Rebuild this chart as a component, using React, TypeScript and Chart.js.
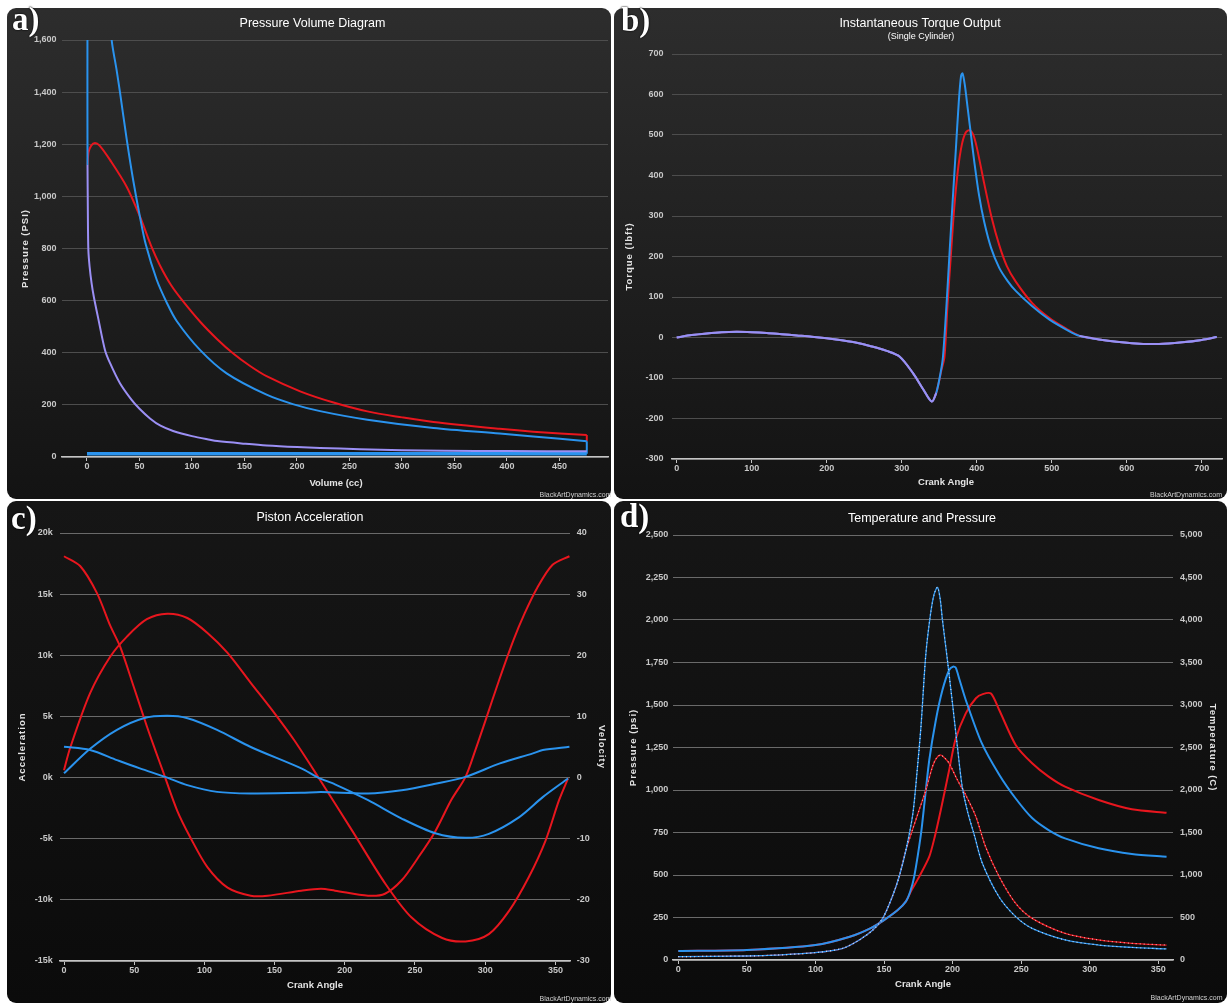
import React, { useEffect, useRef } from 'react';
import { Chart, registerables } from 'chart.js';

Chart.register(...registerables);

type Pt = [number, number];

// ---------------- a) Pressure Volume Diagram ----------------
const pvVolumeTicks = [0, 50, 100, 150, 200, 250, 300, 350, 400, 450];
const pvPressureTicks = [0, 200, 400, 600, 800, 1000, 1200, 1400, 1600];
// compression stroke (shared by both runs), volume cc -> psi
const pvCompression: Pt[] = [
  [476, 22], [400, 23], [340, 24], [300, 26], [260, 30], [222, 35], [200, 38], [171, 44],
  [150, 51], [124, 61], [117, 66], [100, 80], [82, 100], [70, 120], [60, 148], [50, 185],
  [42.5, 219], [31.4, 283], [22, 360], [17.1, 411], [10.8, 530], [6.5, 615], [4.4, 666],
  [2.5, 730], [1.3, 795], [0.8, 950], [0.5, 1120],
];
const pvBlueRun: Pt[] = [
  [0.5, 1120], [0.4, 1450], [0.6, 1800], [2, 2300], [6, 2450], [12, 2250], [18, 1900],
  [23.5, 1600], [28, 1490], [31.4, 1400], [37.8, 1220], [44.1, 1060], [50.5, 920], [56, 815],
  [66.4, 680], [76, 592], [85.4, 522], [107.6, 411], [133, 321], [171, 239], [196, 203],
  [222, 176], [267, 143], [330, 111], [393, 90], [425, 79], [476, 60],
];
const pvRedRun: Pt[] = [
  [0.5, 1120], [1.5, 1170], [4, 1195], [7.6, 1205], [12, 1195], [21.9, 1140], [37.8, 1037],
  [50.5, 922], [61.6, 805], [69.5, 735], [80, 660], [91, 600], [108, 518], [124, 452],
  [139, 398], [155, 350], [171, 310], [203, 252], [234, 210], [267, 175], [300, 152],
  [330, 134], [393, 108], [425, 97], [476, 84],
];
const pvBlowdownRed: Pt[] = [[476, 84], [476, 60]];
const pvBlowdownBlue: Pt[] = [[476, 60], [476, 12]];
const pvExhaustIntake: Pt[] = [[476, 12], [0, 12]];

// ---------------- b) Instantaneous Torque Output ----------------
const torqueAngleTicks = [0, 100, 200, 300, 400, 500, 600, 700];
const torqueTicks = [-300, -200, -100, 0, 100, 200, 300, 400, 500, 600, 700];
const torqueCommonStart: Pt[] = [
  [0, 0], [20, 6], [40, 10], [60, 13], [80, 14], [100, 13], [120, 11], [140, 8], [160, 5],
  [180, 2], [200, -2], [220, -7], [240, -13], [260, -22], [280, -33], [297, -47], [315, -88],
  [329, -129], [340, -158], [346, -137],
];
const torqueBlueMid: Pt[] = [
  [346, -137], [352, -85], [355, -47], [360, 90], [364, 217], [368, 340], [372, 460],
  [376, 580], [379, 645], [381, 652], [384, 625], [388, 565], [392, 505], [397, 430],
  [403, 352], [410, 285], [419, 222], [430, 172], [441, 140], [452, 115], [474, 77],
  [497, 44], [520, 19], [537, 4],
];
const torqueRedMid: Pt[] = [
  [346, -137], [353, -80], [357, -47], [361, 80], [366, 217], [370, 320], [375, 415],
  [380, 475], [385, 505], [390, 512], [395, 502], [400, 470], [410, 380], [420, 295],
  [430, 228], [440, 177], [452, 138], [474, 85], [497, 48], [520, 21], [537, 4],
];
const torqueCommonEnd: Pt[] = [
  [537, 4], [563, -5], [607, -14], [643, -16], [674, -12], [700, -6], [720, 1],
];

// ---------------- c) Piston Acceleration ----------------
const pistonAngleTicks = [0, 50, 100, 150, 200, 250, 300, 350];
const accelTicks = [-15000, -10000, -5000, 0, 5000, 10000, 15000, 20000];
const velocityTicks = [-30, -20, -10, 0, 10, 20, 30, 40];
const redAccel: Pt[] = [
  [0, 18100], [11.5, 17300], [23.4, 15100], [33, 12400], [40, 10700], [49.6, 7450],
  [59, 4200], [65, 2250], [71, 340], [80.6, -2700], [90, -4900], [102, -7300],
  [116.5, -9000], [133, -9660], [145, -9660], [169, -9250], [183, -9100], [193, -9250],
  [216.6, -9660], [228.6, -9500], [240.5, -8400], [252.5, -6500], [264.4, -4400],
  [276, -1800], [286, 60], [293, 2250], [300, 4600], [310, 8000], [320, 11200],
  [328, 13400], [337, 15500], [348, 17400], [360, 18100],
];
const redVelocity: Pt[] = [
  [0, 1.2], [4.3, 4.8], [18.6, 13.8], [33, 19.8], [45, 23.1], [59, 25.9], [73.5, 26.8],
  [87.8, 26.1], [102, 23.7], [116.5, 20.4], [133, 15.5], [150, 10.5], [164, 6.1],
  [181, 0.1], [205, -8.6], [229, -17.4], [247.6, -22.9], [269, -26.2], [286, -26.8],
  [302.6, -25.6], [317, -21.8], [331, -16.3], [343, -10.3], [352.6, -3.7], [359, -0.15],
];
const blueAccel: Pt[] = [
  [0, 2520], [18.6, 2250], [37.7, 1430], [54, 750], [72, 60], [87.8, -620], [109, -1170],
  [133, -1300], [169, -1250], [183, -1170], [216.6, -1300], [240.5, -1030], [264.5, -500],
  [286, 60], [310.5, 1160], [334, 1980], [341, 2250], [360, 2520],
];
const blueVelocity: Pt[] = [
  [0, 0.7], [18.6, 4.7], [37.7, 7.8], [56.7, 9.7], [73.5, 10.1], [88, 9.7], [109, 7.8],
  [133, 5.0], [169, 1.5], [181, 0], [193, -1.1], [216.6, -3.7], [240.5, -6.7],
  [264.4, -9.1], [286, -9.85], [302.6, -9.2], [324, -6.5], [341, -3.2], [359, -0.15],
];

// ---------------- d) Temperature and Pressure ----------------
const tpAngleTicks = [0, 50, 100, 150, 200, 250, 300, 350];
const psiTicks = [0, 250, 500, 750, 1000, 1250, 1500, 1750, 2000, 2250, 2500];
const tempTicks = [0, 500, 1000, 1500, 2000, 2500, 3000, 3500, 4000, 4500, 5000];
const pressureShared: Pt[] = [
  [0, 19.6], [50, 23.5], [71.5, 29], [99.5, 43], [120, 69], [132, 118], [141.8, 176],
  [149, 245], [156, 372], [161, 490], [166, 647],
];
const pressureBlue: Pt[] = [
  [171, 860], [174, 1100], [177, 1380], [180.5, 1800], [184, 2040], [186.5, 2150],
  [189, 2192], [191, 2120], [192.6, 2000], [196.2, 1765], [199.9, 1510], [203.5, 1255],
  [207, 1020], [211, 870], [216, 730], [221.7, 569], [233.8, 372], [246, 255], [258, 186],
  [282, 118], [306.5, 88], [330.7, 74], [356, 65],
];
const pressureRed: Pt[] = [
  [170.5, 760], [175.6, 882], [180.5, 1000], [185.3, 1137], [188, 1185], [191, 1206],
  [194, 1190], [197.5, 1157], [203.5, 1059], [209.6, 970], [217, 843], [224, 667],
  [234, 490], [246, 333], [258, 245], [282, 157], [306.5, 118], [330.7, 98], [356, 88],
];
const tempShared: Pt[] = [
  [0, 106], [50, 118], [100, 176], [125, 274], [140, 373], [150, 470], [160, 588], [166, 690],
];
const tempBlue: Pt[] = [
  [169, 800], [172, 980], [177, 1490], [179.5, 1850], [183, 2353], [187.8, 2824],
  [192.6, 3176], [197.5, 3412], [200.4, 3451], [202.3, 3440], [205, 3300], [209.6, 3059],
  [221, 2560], [234, 2180], [246, 1900], [258, 1670], [270, 1529], [282, 1431],
  [306.5, 1314], [330.7, 1247], [356, 1215],
];
const tempRed: Pt[] = [
  [170, 820], [176, 990], [183, 1216], [187, 1450], [191.4, 1765], [197.5, 2235],
  [202, 2588], [209.6, 2902], [217, 3079], [222, 3128], [228, 3135], [234, 2941],
  [246, 2530], [258, 2314], [270, 2157], [282, 2039], [306.5, 1882], [330.7, 1773],
  [356, 1733],
];

// ---------------- styling ----------------
const FONT = '"Liberation Sans", Arial, Helvetica, sans-serif';
const RED = '#e8161e';
const BLUE = '#2a93ee';
const LAVENDER = '#9b8ff4';
const AXIS = '#c4c4c4';
const TICK = '#c8c8c8';
const TICK_FONT = { family: FONT, size: 9, weight: 'bold' as const };

const toXY = (pts: Pt[]) => pts.map(([x, y]) => ({ x, y }));
const fmtComma = (v: number) => Number(v).toLocaleString('en-US');

function line(data: Pt[], color: string, width = 2, extra: any = {}) {
  return {
    data: toXY(data),
    borderColor: color,
    borderWidth: width,
    pointRadius: 0,
    pointHoverRadius: 0,
    fill: false,
    tension: 0.3,
    ...extra,
  };
}

function xScale(min: number, max: number, ticks: number[]) {
  return {
    type: 'linear',
    position: 'bottom',
    min,
    max,
    afterBuildTicks: (s: any) => { s.ticks = ticks.map((v) => ({ value: v })); },
    afterFit: (s: any) => { s.height = 20; },
    grid: { display: true, drawOnChartArea: false, drawTicks: true, tickLength: 4, color: AXIS, tickColor: AXIS, tickWidth: 1 },
    border: { display: true, color: AXIS, width: 1.5 },
    ticks: { color: TICK, font: TICK_FONT, padding: 0, maxRotation: 0, minRotation: 0, autoSkip: false, callback: (v: any) => String(v) },
  };
}

function yScale(pos: string, min: number, max: number, ticks: number[], width: number, pad: number, grid: string | null, fmt: (v: number) => string) {
  return {
    type: 'linear',
    position: pos,
    min,
    max,
    afterBuildTicks: (s: any) => { s.ticks = ticks.map((v) => ({ value: v })); },
    afterFit: (s: any) => { s.width = width; },
    grid: grid ? { display: true, color: grid, lineWidth: 1, drawTicks: false } : { display: false, drawTicks: false },
    border: { display: false },
    ticks: { color: TICK, font: TICK_FONT, padding: pad, autoSkip: false, callback: (v: any) => fmt(v) },
  };
}

interface TextItem {
  text: string; x: number; y: number; font: string; color: string;
  align?: CanvasTextAlign; baseline?: CanvasTextBaseline; rotate?: number; spacing?: string;
}

function textPlugin(items: TextItem[]) {
  return {
    id: 'panelTexts',
    afterDraw(chart: any) {
      const ctx = chart.ctx as CanvasRenderingContext2D;
      items.forEach((t) => {
        ctx.save();
        ctx.translate(t.x, t.y);
        if (t.rotate) ctx.rotate(t.rotate);
        ctx.font = t.font;
        ctx.fillStyle = t.color;
        ctx.textAlign = t.align ?? 'center';
        ctx.textBaseline = t.baseline ?? 'alphabetic';
        if (t.spacing) (ctx as any).letterSpacing = t.spacing;
        ctx.fillText(t.text, 0, 0);
        ctx.restore();
      });
    },
  };
}

function bgPlugin(top: string, bottom: string) {
  return {
    id: 'panelBg',
    beforeDraw(chart: any) {
      const { ctx, width, height } = chart;
      ctx.save();
      const g = ctx.createLinearGradient(0, 0, 0, height);
      g.addColorStop(0, top);
      g.addColorStop(1, bottom);
      ctx.fillStyle = g;
      ctx.beginPath();
      ctx.roundRect(0, 0, width, height, 9);
      ctx.fill();
      ctx.restore();
    },
  };
}

const TITLE_FONT = `12.5px ${FONT}`;
const AXIS_TITLE_FONT = `bold 9.5px ${FONT}`;
const CREDIT_FONT = `7px ${FONT}`;
const TITLE_C = '#ffffff';
const AT_C = '#e4e4e4';
const CREDIT_C = '#d0d0d0';

function baseOptions(padding: any, scales: any) {
  return {
    responsive: false,
    animation: false,
    devicePixelRatio: 1,
    events: [],
    layout: { padding },
    plugins: { legend: { display: false }, tooltip: { enabled: false }, title: { display: false } },
    scales,
  };
}

function buildA() {
  const GRID = '#4d4d4d';
  return {
    type: 'line',
    data: {
      datasets: [
        line(pvCompression, LAVENDER),
        line(pvBlueRun, BLUE),
        line(pvRedRun, RED),
        line(pvBlowdownBlue, BLUE, 2, { tension: 0 }),
        line(pvBlowdownRed, RED, 2, { tension: 0 }),
        line(pvExhaustIntake, BLUE, 3.5, { tension: 0 }),
      ],
    },
    options: baseOptions(
      { top: 32, right: 3, bottom: 22, left: 0 },
      {
        x: xScale(-23.8, 496.2, pvVolumeTicks),
        y: yScale('left', 0, 1600, pvPressureTicks, 55, 5.5, GRID, fmtComma),
      },
    ),
    plugins: [
      bgPlugin('#2d2d2d', '#131313'),
      textPlugin([
        { text: 'Pressure Volume Diagram', x: 305.5, y: 18.7, font: TITLE_FONT, color: TITLE_C },
        { text: 'Pressure (PSI)', x: 18, y: 240.5, font: AXIS_TITLE_FONT, color: AT_C, rotate: -Math.PI / 2, baseline: 'middle', spacing: '1px' },
        { text: 'Volume (cc)', x: 329, y: 478, font: AXIS_TITLE_FONT, color: AT_C },
        { text: 'BlackArtDynamics.com', x: 604.5, y: 489, font: CREDIT_FONT, color: CREDIT_C, align: 'right' },
      ]),
    ],
  };
}

function buildB() {
  const GRID = '#4d4d4d';
  const blueFull = [...torqueCommonStart, ...torqueBlueMid.slice(1), ...torqueCommonEnd.slice(1)];
  const redFull = [...torqueCommonStart, ...torqueRedMid.slice(1), ...torqueCommonEnd.slice(1)];
  return {
    type: 'line',
    data: {
      datasets: [
        line(torqueCommonStart, LAVENDER),
        line(torqueCommonEnd, LAVENDER),
        line(blueFull, BLUE),
        line(redFull, RED),
      ],
    },
    options: baseOptions(
      { top: 46, right: 5, bottom: 20, left: 0 },
      {
        x: xScale(-6.3, 727, torqueAngleTicks),
        y: yScale('left', -300, 700, torqueTicks, 58, 8.5, GRID, (v) => String(v)),
      },
    ),
    plugins: [
      bgPlugin('#2d2d2d', '#131313'),
      textPlugin([
        { text: 'Instantaneous Torque Output', x: 306, y: 19.3, font: TITLE_FONT, color: TITLE_C },
        { text: '(Single Cylinder)', x: 307, y: 31, font: `9px ${FONT}`, color: TITLE_C },
        { text: 'Torque (lbft)', x: 15, y: 248.5, font: AXIS_TITLE_FONT, color: AT_C, rotate: -Math.PI / 2, baseline: 'middle', spacing: '1px' },
        { text: 'Crank Angle', x: 332, y: 477, font: AXIS_TITLE_FONT, color: AT_C },
        { text: 'BlackArtDynamics.com', x: 608, y: 489, font: CREDIT_FONT, color: CREDIT_C, align: 'right' },
      ]),
    ],
  };
}

function buildC() {
  const GRID = '#6a6a6a';
  return {
    type: 'line',
    data: {
      datasets: [
        line(blueAccel, BLUE, 2, { yAxisID: 'y' }),
        line(blueVelocity, BLUE, 2, { yAxisID: 'y2' }),
        line(redAccel, RED, 2, { yAxisID: 'y' }),
        line(redVelocity, RED, 2, { yAxisID: 'y2' }),
      ],
    },
    options: baseOptions(
      { top: 32, right: 0, bottom: 22, left: 0 },
      {
        x: xScale(-2.85, 360.4, pistonAngleTicks),
        y: yScale('left', -15000, 20000, accelTicks, 53, 7.3, GRID, (v) => `${v / 1000}k`),
        y2: yScale('right', -30, 40, velocityTicks, 41, 6.7, null, (v) => String(v)),
      },
    ),
    plugins: [
      bgPlugin('#161616', '#0b0b0b'),
      textPlugin([
        { text: 'Piston Acceleration', x: 303, y: 19.7, font: TITLE_FONT, color: TITLE_C },
        { text: 'Acceleration', x: 15, y: 246, font: AXIS_TITLE_FONT, color: AT_C, rotate: -Math.PI / 2, baseline: 'middle', spacing: '1px' },
        { text: 'Velocity', x: 594.7, y: 246, font: AXIS_TITLE_FONT, color: AT_C, rotate: Math.PI / 2, baseline: 'middle', spacing: '1px' },
        { text: 'Crank Angle', x: 308, y: 487, font: AXIS_TITLE_FONT, color: AT_C },
        { text: 'BlackArtDynamics.com', x: 604.5, y: 500, font: CREDIT_FONT, color: CREDIT_C, align: 'right' },
      ]),
    ],
  };
}

function buildD() {
  const GRID = '#6a6a6a';
  const pBlue = [...pressureShared, ...pressureBlue];
  const pRed = [...pressureShared, ...pressureRed];
  const tBlue = [...tempShared, ...tempBlue];
  const tRed = [...tempShared, ...tempRed];
  return {
    type: 'line',
    data: {
      datasets: [
        line(pBlue, 'rgba(235,242,255,0.8)', 1.2, { yAxisID: 'y', borderDash: [1, 3] }),
        line(pBlue, BLUE, 1.3, { yAxisID: 'y' }),
        line(pRed, 'rgba(255,225,225,0.75)', 1.2, { yAxisID: 'y', borderDash: [1, 3] }),
        line(pRed, RED, 1.3, { yAxisID: 'y' }),
        line(tBlue, BLUE, 2, { yAxisID: 'y2', tension: 0.25 }),
        line(tRed, RED, 2, { yAxisID: 'y2', tension: 0.25 }),
      ],
    },
    options: baseOptions(
      { top: 34, right: 0, bottom: 23, left: 0 },
      {
        x: xScale(-3.86, 360.7, tpAngleTicks),
        y: yScale('left', 0, 2500, psiTicks, 59, 4.7, GRID, fmtComma),
        y2: yScale('right', 0, 5000, tempTicks, 54, 7, null, fmtComma),
      },
    ),
    plugins: [
      bgPlugin('#161616', '#0b0b0b'),
      textPlugin([
        { text: 'Temperature and Pressure', x: 308, y: 21, font: TITLE_FONT, color: TITLE_C },
        { text: 'Pressure (psi)', x: 19.5, y: 246.5, font: AXIS_TITLE_FONT, color: AT_C, rotate: -Math.PI / 2, baseline: 'middle', spacing: '1px' },
        { text: 'Temperature (C)', x: 599, y: 246.5, font: AXIS_TITLE_FONT, color: AT_C, rotate: Math.PI / 2, baseline: 'middle', spacing: '1px' },
        { text: 'Crank Angle', x: 309, y: 486, font: AXIS_TITLE_FONT, color: AT_C },
        { text: 'BlackArtDynamics.com', x: 608.5, y: 499, font: CREDIT_FONT, color: CREDIT_C, align: 'right' },
      ]),
    ],
  };
}

interface Frame { left: number; top: number; width: number; height: number; }

function ChartPanel({ frame, build }: { frame: Frame; build: () => any }) {
  const ref = useRef<HTMLCanvasElement | null>(null);
  useEffect(() => {
    if (!ref.current) return;
    const chart = new Chart(ref.current, build());
    return () => chart.destroy();
  }, []);
  return (
    <canvas
      ref={ref}
      width={frame.width}
      height={frame.height}
      style={{ position: 'absolute', left: frame.left, top: frame.top, width: frame.width, height: frame.height, display: 'block' }}
    />
  );
}

const labelStyle = (left: number, top: number): React.CSSProperties => ({
  position: 'absolute',
  left,
  top,
  font: 'bold 33px "Liberation Serif", "Times New Roman", serif',
  lineHeight: '33px',
  color: '#ffffff',
  textShadow: '0 0 2px #000, 0 0 1px #000',
  pointerEvents: 'none',
});

export default function App() {
  return (
    <div style={{ position: 'absolute', left: 0, top: 0, width: 1227, height: 1003, background: '#ffffff', overflow: 'hidden' }}>
      <ChartPanel frame={{ left: 7, top: 8, width: 604, height: 491 }} build={buildA} />
      <ChartPanel frame={{ left: 614, top: 8, width: 613, height: 491 }} build={buildB} />
      <ChartPanel frame={{ left: 7, top: 501, width: 604, height: 502 }} build={buildC} />
      <ChartPanel frame={{ left: 614, top: 501, width: 613, height: 502 }} build={buildD} />
      <span style={labelStyle(12, 3)}>a)</span>
      <span style={labelStyle(621, 4)}>b)</span>
      <span style={labelStyle(11, 502)}>c)</span>
      <span style={labelStyle(620, 500)}>d)</span>
    </div>
  );
}
